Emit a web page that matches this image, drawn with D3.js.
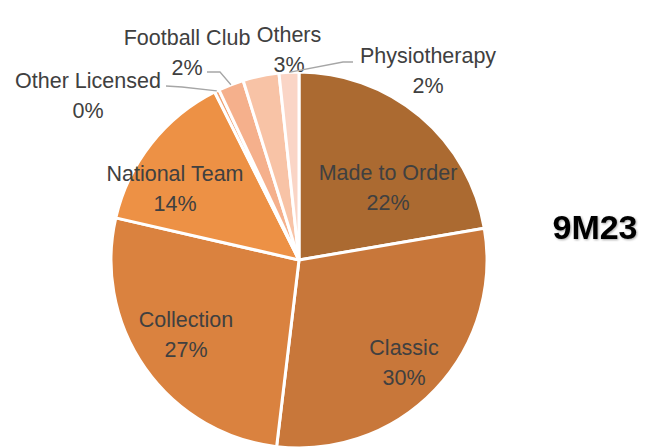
<!DOCTYPE html>
<html>
<head>
<meta charset="utf-8">
<script src="https://cdn.jsdelivr.net/npm/d3@7"></script>
<style>
  body { margin: 0; background: #fff; }
  text { font-family: "Liberation Sans", Arial, sans-serif; }
</style>
</head>
<body>
<div id="chart"></div>
<script>
// data (clockwise from 12 o'clock)
var categories = ['Made to Order', 'Classic', 'Collection', 'National Team',
                  'Other Licensed', 'Football Club', 'Others', 'Physiotherapy'];
var shares = [22.3, 29.6, 26.7, 14.0, 0.4, 2.2, 3.1, 1.7];
var percentLabels = ['22%', '30%', '27%', '14%', '0%', '2%', '3%', '2%'];
var colors = ['#AB6A31', '#C8773A', '#DA823F', '#ED9145',
              '#F0A070', '#F5B08C', '#F8C3A6', '#FAD5C6'];
var title = '9M23';

var width = 646, height = 447;
var cx = 299, cy = 260, radius = 188;

var svg = d3.select('#chart').append('svg')
  .attr('width', width)
  .attr('height', height);

var defs = svg.append('defs');
var shadow = defs.append('filter').attr('id', 'shadow')
  .attr('x', '-20%').attr('y', '-20%').attr('width', '140%').attr('height', '140%');
shadow.append('feDropShadow')
  .attr('dx', 1).attr('dy', 1).attr('stdDeviation', 1.2)
  .attr('flood-color', '#000').attr('flood-opacity', 0.35);

var data = categories.map(function(c, i) {
  return {name: c, value: shares[i], label: percentLabels[i], color: colors[i]};
});

var pie = d3.pie().sort(null).value(function(d) { return d.value; });
var arc = d3.arc().innerRadius(0).outerRadius(radius);
var arcs = pie(data);

var g = svg.append('g').attr('transform', 'translate(' + cx + ',' + cy + ')');

g.selectAll('path')
  .data(arcs)
  .enter()
  .append('path')
  .attr('d', arc)
  .style('fill', function(d) { return d.data.color; })
  .style('stroke', '#fff')
  .style('stroke-width', 3)
  .style('stroke-linejoin', 'round');

// label placement: inside labels relative to pie centre, outside ones by hand
var inside = {
  'Made to Order':  {dx: 89,   dy: -73},
  'Classic':        {dx: 105,  dy: 102},
  'Collection':     {dx: -113, dy: 74},
  'National Team':  {dx: -124, dy: -72}
};
var outside = {
  'Other Licensed': {x: 88,  y: 95},
  'Football Club':  {x: 187, y: 52},
  'Others':         {x: 289, y: 49},
  'Physiotherapy':  {x: 428, y: 70}
};

arcs.forEach(function(a) {
  var x, y;
  if (inside[a.data.name]) {
    x = cx + inside[a.data.name].dx; y = cy + inside[a.data.name].dy;
  } else {
    x = outside[a.data.name].x; y = outside[a.data.name].y;
  }
  var t = svg.append('text')
    .attr('text-anchor', 'middle')
    .style('font-size', '21.5px')
    .style('fill', '#404040');
  t.append('tspan').attr('x', x).attr('y', y - 15).attr('dy', '0.35em').text(a.data.name);
  t.append('tspan').attr('x', x).attr('y', y + 15).attr('dy', '0.35em').text(a.data.label);
});

// leader lines for the thin slices
function edgePoint(a, k) {
  var mid = (a.startAngle + a.endAngle) / 2;
  return [cx + Math.sin(mid) * radius * k, cy - Math.cos(mid) * radius * k];
}
var leaders = {
  'Other Licensed': [[166, 86], [182, 87]],
  'Football Club':  [[207, 72], [220, 72]],
  'Physiotherapy':  [[353, 62], [343, 62]]
};
var line = d3.line();
arcs.forEach(function(a) {
  var pts = leaders[a.data.name];
  if (!pts) return;
  svg.append('path')
    .attr('d', line(pts.concat([edgePoint(a, 1.0)])))
    .style('fill', 'none')
    .style('stroke', '#A6A6A6')
    .style('stroke-width', 1.3);
});

svg.append('text')
  .attr('x', 595).attr('y', 239)
  .attr('text-anchor', 'middle')
  .style('font-size', '34px')
  .style('font-weight', 'bold')
  .style('fill', '#000')
  .attr('filter', 'url(#shadow)')
  .text(title);
</script>
</body>
</html>
